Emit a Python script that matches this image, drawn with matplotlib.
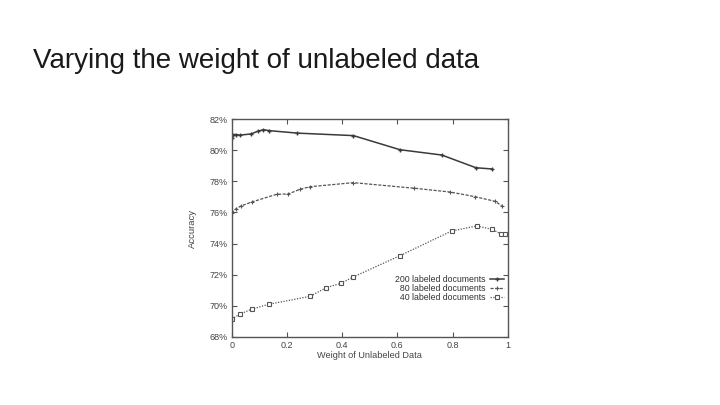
import matplotlib
matplotlib.use("Agg")
import matplotlib.pyplot as plt
from matplotlib.ticker import FuncFormatter

plt.rcParams['font.family'] = ['Liberation Sans', 'DejaVu Sans']

title = "Varying the weight of unlabeled data"
x_label = "Weight of Unlabeled Data"
y_label = "Accuracy"

series_names = ["200 labeled documents", "\u200780 labeled documents", "\u200740 labeled documents"]

x200 = [0, 0.006, 0.0145, 0.030, 0.071, 0.094, 0.115, 0.136, 0.238, 0.441, 0.610, 0.761, 0.885, 0.944]
y200 = [80.78, 81.00, 81.02, 80.98, 81.06, 81.23, 81.33, 81.27, 81.11, 80.95, 80.04, 79.70, 78.88, 78.80]

x80 = [0, 0.014, 0.034, 0.072, 0.163, 0.205, 0.247, 0.284, 0.441, 0.662, 0.790, 0.881, 0.954, 0.978]
y80 = [75.95, 76.22, 76.42, 76.67, 77.17, 77.19, 77.49, 77.66, 77.92, 77.56, 77.32, 77.02, 76.72, 76.44]

x40 = [0, 0.030, 0.072, 0.135, 0.284, 0.343, 0.396, 0.441, 0.610, 0.797, 0.888, 0.942, 0.976, 0.990]
y40 = [69.14, 69.46, 69.77, 70.09, 70.60, 71.16, 71.44, 71.85, 73.22, 74.81, 75.13, 74.92, 74.61, 74.61]

x_ticks = [0, 0.2, 0.4, 0.6, 0.8, 1]
x_tick_labels = ["0", "0.2", "0.4", "0.6", "0.8", "1"]
y_ticks = [68, 70, 72, 74, 76, 78, 80, 82]

fig = plt.figure(figsize=(7.2, 4.05), dpi=100)
fig.patch.set_facecolor("white")
fig.text(33 / 720, 1 - 61 / 405, title, fontsize=20, color="#1a1a1a",
         ha="left", va="center")

ax = fig.add_axes([231.7 / 720, 1 - 336.7 / 405, 276 / 720, 217.4 / 405])
ax.set_facecolor("white")

ax.plot(x200, y200, color="#3a3a3a", lw=1.1, ls="-", marker="+", ms=3.5, mew=1.0,
        label=series_names[0])
ax.plot(x80, y80, color="#555555", lw=0.9, ls=(0, (2.5, 1.2)), marker="+", ms=3, mew=0.8,
        label=series_names[1])
ax.plot(x40, y40, color="#555555", lw=0.9, ls=(0, (1, 1.2)), marker="s", ms=3.2, mew=0.8,
        mfc="white", mec="#555555", label=series_names[2])

ax.set_xlim(0, 1)
ax.set_ylim(68, 82)
ax.set_xticks(x_ticks)
ax.set_xticklabels(x_tick_labels)
ax.set_yticks(y_ticks)
ax.yaxis.set_major_formatter(FuncFormatter(lambda v, p: f"{int(round(v))}%"))

ax.tick_params(direction="in", length=3.5, width=0.8, colors="#555555",
               labelcolor="#444444", labelsize=6.5, top=True, right=True, pad=3)
for s in ax.spines.values():
    s.set_color("#555555")
    s.set_linewidth(1.0)

ax.set_xlabel(x_label, fontsize=6.6, color="#444444", labelpad=1)
ax.set_ylabel(y_label, fontsize=6.8, color="#444444", labelpad=9)

leg = ax.legend(loc="lower right", bbox_to_anchor=(0.985, 0.16), frameon=False,
                markerfirst=False, fontsize=6.3, labelspacing=0.0, handlelength=1.6,
                handletextpad=0.5, borderpad=0, borderaxespad=0)
for t in leg.get_texts():
    t.set_color("#333333")

fig.savefig("out.png", dpi=100, facecolor="white")
